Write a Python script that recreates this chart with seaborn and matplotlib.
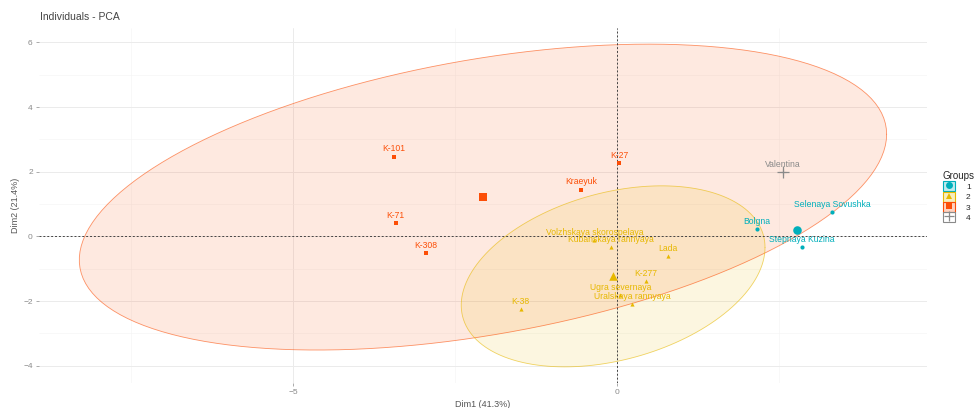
import numpy as np
import pandas as pd
import matplotlib
matplotlib.use("Agg")
import matplotlib.pyplot as plt
import seaborn as sns
from matplotlib.lines import Line2D
from matplotlib.patches import Patch

# ---------------- data ----------------
names = ["Selenaya Sovushka", "Bolgna", "Stepnaya Kuzina",
         "K-38", "K-277", "Lada", "Volzhskaya skorospelaya", "Kubanskaya rannyaya",
         "Ugra severnaya", "Uralskaya rannyaya",
         "K-101", "K-71", "K-308", "K-27", "Kraeyuk",
         "Valentina"]
dim1 = [3.32, 2.16, 2.86,
        -1.49, 0.45, 0.79, -0.35, -0.10, 0.05, 0.23,
        -3.45, -3.42, -2.95, 0.03, -0.56,
        2.56]
dim2 = [0.74, 0.22, -0.34,
        -2.25, -1.39, -0.62, -0.12, -0.34, -1.82, -2.10,
        2.47, 0.40, -0.52, 2.28, 1.45,
        2.00]
groups = ["1", "1", "1",
          "2", "2", "2", "2", "2", "2", "2",
          "3", "3", "3", "3", "3",
          "4"]
group_levels = ["1", "2", "3", "4"]
title = "Individuals - PCA"
xlabel = "Dim1 (41.3%)"
ylabel = "Dim2 (21.4%)"
x_ticks = [-5, 0]
y_ticks = [-4, -2, 0, 2, 4, 6]

palette = {"1": "#00AFBB", "2": "#E7B800", "3": "#FC4E07", "4": "#8a8a8a"}
markers = {"1": "o", "2": "^", "3": "s", "4": "+"}

df = pd.DataFrame({"name": names, "Dim1": dim1, "Dim2": dim2, "Groups": groups})

# ---------------- style ----------------
sns.set_theme(style="whitegrid")
plt.rcParams["font.family"] = ["Liberation Sans", "DejaVu Sans"]

fig = plt.figure(figsize=(9.79, 4.08), dpi=100)
ax = fig.add_axes([39 / 979, 1 - 383 / 408, (927 - 39) / 979, (383 - 28) / 408])
ax.set_facecolor("white")


def ellipse_pts(sub, level=0.95, segments=160):
    P = sub[["Dim1", "Dim2"]].to_numpy()
    n = len(P)
    center = P.mean(axis=0)
    cov = np.cov(P.T)
    dfd = n - 1
    fq = dfd / 2.0 * ((1 - level) ** (-2.0 / dfd) - 1.0)  # qf(level, 2, dfd)
    radius = np.sqrt(2 * fq)
    t = np.linspace(0, 2 * np.pi, segments)
    circle = np.column_stack([np.cos(t), np.sin(t)])
    L = np.linalg.cholesky(cov)
    return center + radius * circle @ L.T


# ellipses
all_x, all_y = list(df["Dim1"]), list(df["Dim2"])
for g in ["3", "2"]:
    sub = df[df["Groups"] == g]
    if len(sub) > 3:
        E = ellipse_pts(sub)
        ax.fill(E[:, 0], E[:, 1], color=palette[g], alpha=0.12, lw=0, zorder=1)
        ax.plot(E[:, 0], E[:, 1], color=palette[g], lw=0.6, alpha=0.6, zorder=2)
        all_x += list(E[:, 0]); all_y += list(E[:, 1])

# reference lines
ax.axhline(0, color="#444444", lw=0.7, ls=(0, (2, 2)), zorder=2.5)
ax.axvline(0, color="#444444", lw=0.7, ls=(0, (2, 2)), zorder=2.5)

# points
for g in group_levels:
    sub = df[df["Groups"] == g]
    kw = dict(data=sub, x="Dim1", y="Dim2", ax=ax, color=palette[g], marker=markers[g],
              legend=False, zorder=4)
    if markers[g] == "+":
        sns.scatterplot(s=22, linewidth=0.8, **kw)
    else:
        sns.scatterplot(s=9, linewidth=0, **kw)

# group centroids
cent = df.groupby("Groups")[["Dim1", "Dim2"]].mean().reset_index()
for g in group_levels:
    sub = cent[cent["Groups"] == g]
    if markers[g] == "+":
        sns.scatterplot(data=sub, x="Dim1", y="Dim2", ax=ax, color=palette[g], marker="+",
                        s=70, linewidth=0.9, legend=False, zorder=5)
    else:
        sns.scatterplot(data=sub, x="Dim1", y="Dim2", ax=ax, color=palette[g], marker=markers[g],
                        s=38, linewidth=0, legend=False, zorder=5)

# labels
for _, r in df.iterrows():
    ax.annotate(r["name"], (r["Dim1"], r["Dim2"]), xytext=(0, 5.5), textcoords="offset points",
                ha="center", va="center", fontsize=6.2, color=palette[r["Groups"]], zorder=6)

# limits (ggplot-like 5% expansion)
xmin, xmax = min(all_x), max(all_x)
ymin, ymax = min(all_y), max(all_y)
ax.set_xlim(xmin - 0.05 * (xmax - xmin), xmax + 0.05 * (xmax - xmin))
ax.set_ylim(ymin - 0.05 * (ymax - ymin), ymax + 0.05 * (ymax - ymin))

ax.set_xticks(x_ticks)
ax.set_xticks([-7.5, -2.5, 2.5], minor=True)
ax.set_yticks(y_ticks)
ax.set_yticks([-3, -1, 1, 3, 5], minor=True)
ax.grid(which="major", color="#ebebeb", lw=0.7)
ax.grid(which="minor", color="#f4f4f4", lw=0.4)
for s in ax.spines.values():
    s.set_visible(False)
ax.tick_params(axis="both", which="major", labelsize=6, colors="#8a8a8a", length=2.5, width=0.5,
               pad=2, left=True, bottom=True)
ax.tick_params(axis="both", which="minor", length=0)
ax.set_xlabel(xlabel, fontsize=6.5, color="#555555", labelpad=3)
ax.set_ylabel(ylabel, fontsize=6.5, color="#555555", labelpad=2)
fig.text(40 / 979, 1 - 17 / 408, title, fontsize=7.5, color="#444444", va="center", ha="left")

# legend
handles = []
for g in group_levels:
    patch = Patch(facecolor=palette[g], alpha=0.25 if g != "4" else 0.0, edgecolor="none")
    if markers[g] == "+":
        mk = Line2D([], [], marker="+", color=palette[g], ls="", markersize=7, mew=0.9)
    else:
        mk = Line2D([], [], marker=markers[g], color=palette[g], ls="", markersize=5, mew=0)
    border = Patch(facecolor="none", edgecolor=palette[g], lw=0.8)
    handles.append((patch, border, mk))
fig.legend(handles, group_levels, title="Groups", loc="upper left",
           bbox_to_anchor=(938 / 979, 1 - 166 / 408), frameon=False, fontsize=6,
           title_fontsize=7, handlelength=1.45, handleheight=1.45, handletextpad=1.3,
           labelspacing=0.05, borderpad=0.1, alignment="left")

fig.savefig("out.png", dpi=100, facecolor="white")
